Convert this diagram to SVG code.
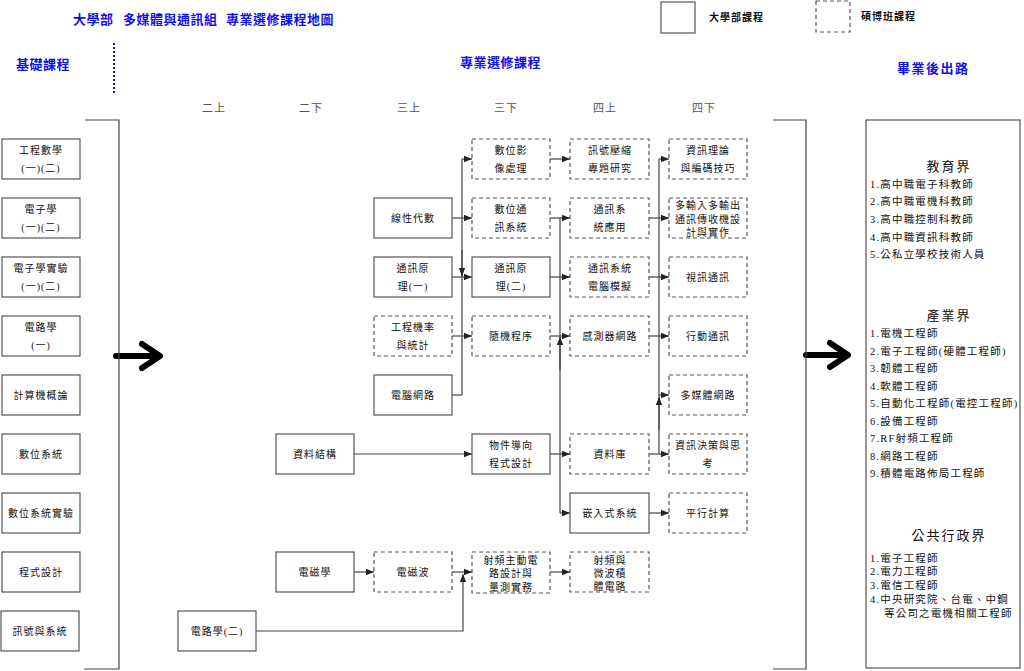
<svg xmlns="http://www.w3.org/2000/svg" width="1024" height="671" viewBox="0 0 1024 671">
<defs>
<style>
.bx{fill:#fff;stroke:#555;stroke-width:1.2}
.dx{fill:#fff;stroke:#555;stroke-width:1.2;stroke-dasharray:4 3}
.t{font-family:"Liberation Serif","Noto Sans CJK TC",serif;font-size:10px;letter-spacing:1px;fill:#111;text-anchor:middle;dominant-baseline:central}
.h{font-family:"Liberation Serif","Noto Sans CJK TC",serif;font-size:13px;font-weight:bold;fill:#1010f0;letter-spacing:0.5px;dominant-baseline:central}
.sem{font-family:"Liberation Serif","Noto Sans CJK TC",serif;font-size:11px;fill:#555;text-anchor:middle;dominant-baseline:central;letter-spacing:1px}
.lg{font-family:"Liberation Serif","Noto Sans CJK TC",serif;font-size:10px;font-weight:bold;fill:#111;dominant-baseline:central;letter-spacing:1px}
.rh{font-family:"Liberation Serif","Noto Sans CJK TC",serif;font-size:13px;fill:#111;text-anchor:middle;dominant-baseline:central;letter-spacing:2px}
.ri{font-family:"Liberation Serif","Noto Sans CJK TC",serif;font-size:10.5px;fill:#111;dominant-baseline:central;letter-spacing:1.2px}
.cn{fill:none;stroke:#444;stroke-width:1.2}
.big{fill:none;stroke:#000;stroke-width:6;stroke-linecap:round;stroke-linejoin:round}
</style>
<marker id="ah" viewBox="0 0 8 8" refX="8" refY="4" markerWidth="8" markerHeight="8" markerUnits="userSpaceOnUse" orient="auto">
<path d="M0,0.8 L8,4 L0,7.2 z" fill="#222"/>
</marker>
</defs>
<rect width="1024" height="671" fill="#fff"/>

<g id="title">
<text class="h" x="73" y="19">大學部</text>
<text class="h" x="123" y="19">多媒體與通訊組</text>
<text class="h" x="226" y="19">專業選修課程地圖</text>
</g>
<g id="headings">
<text class="h" x="16" y="64">基礎課程</text>
<text class="h" x="460" y="62">專業選修課程</text>
<text class="h" x="897" y="68" style="letter-spacing:1.5px">畢業後出路</text>
<line x1="114" y1="43" x2="114" y2="95" stroke="#1010f0" stroke-width="2" stroke-dasharray="2 2"/>
</g>
<g id="legend">
<rect class="bx" x="661" y="2" width="34" height="31"/>
<text class="lg" x="709" y="17">大學部課程</text>
<rect class="dx" x="816" y="1" width="34" height="31"/>
<text class="lg" x="861" y="16">碩博班課程</text>
</g>
<g id="semesters">
<text class="sem" x="214" y="108">二上</text>
<text class="sem" x="311" y="108">二下</text>
<text class="sem" x="409" y="108">三上</text>
<text class="sem" x="506" y="108">三下</text>
<text class="sem" x="605" y="108">四上</text>
<text class="sem" x="704" y="108">四下</text>
</g>

<g id="connectors">
<path class="big" d="M116,356 H159 M142,344 L160,356 L142,368"/>
<path class="big" d="M806,355 H847 M830,343 L848,355 L830,367"/>
<path class="cn" d="M85,120 H119 V669 H84"/>
<path class="cn" d="M773,120 H806 V669 H773"/>
<path class="cn" d="M462,159 V395"/>
<path class="cn" marker-end="url(#ah)" d="M462,159 H472"/>
<path class="cn" marker-end="url(#ah)" d="M452,218 H472"/>
<path class="cn" marker-end="url(#ah)" d="M452,277 H472"/>
<path class="cn" marker-end="url(#ah)" d="M452,336 H472"/>
<path class="cn" d="M452,395 H462"/>
<path class="cn" marker-end="url(#ah)" d="M462,250 V276"/>
<path class="cn" marker-end="url(#ah)" d="M550,159 H570"/>
<path class="cn" d="M560,218 V513"/>
<path class="cn" marker-end="url(#ah)" d="M550,218 H570"/>
<path class="cn" marker-end="url(#ah)" d="M550,277 H570"/>
<path class="cn" marker-end="url(#ah)" d="M550,336 H570"/>
<path class="cn" marker-end="url(#ah)" d="M550,454 H570"/>
<path class="cn" marker-end="url(#ah)" d="M560,513 H570"/>
<path class="cn" marker-end="url(#ah)" d="M560,370 V337"/>
<path class="cn" d="M659,159 V454"/>
<path class="cn" marker-end="url(#ah)" d="M659,159 H669"/>
<path class="cn" marker-end="url(#ah)" d="M649,218 H669"/>
<path class="cn" marker-end="url(#ah)" d="M649,277 H669"/>
<path class="cn" marker-end="url(#ah)" d="M649,336 H669"/>
<path class="cn" marker-end="url(#ah)" d="M659,395 H669"/>
<path class="cn" marker-end="url(#ah)" d="M659,430 V397"/>
<path class="cn" marker-end="url(#ah)" d="M649,454 H669"/>
<path class="cn" marker-end="url(#ah)" d="M649,513 H669"/>
<path class="cn" marker-end="url(#ah)" d="M354,454 H472"/>
<path class="cn" marker-end="url(#ah)" d="M354,572 H374"/>
<path class="cn" marker-end="url(#ah)" d="M452,572 H472"/>
<path class="cn" marker-end="url(#ah)" d="M256,631 H463 V574"/>
<path class="cn" marker-end="url(#ah)" d="M550,572 H570"/>
</g>

<g id="n-gcsx"><rect class="bx" x="2" y="139" width="78" height="40"/><text class="t" x="41" y="150">工程數學</text><text class="t" x="41" y="168">(一)(二)</text></g>
<g id="n-dzx"><rect class="bx" x="2" y="198" width="78" height="40"/><text class="t" x="41" y="209">電子學</text><text class="t" x="41" y="227">(一)(二)</text></g>
<g id="n-dzxsy"><rect class="bx" x="2" y="257" width="78" height="40"/><text class="t" x="41" y="268">電子學實驗</text><text class="t" x="41" y="286">(一)(二)</text></g>
<g id="n-dlx1"><rect class="bx" x="2" y="316" width="78" height="40"/><text class="t" x="41" y="327">電路學</text><text class="t" x="41" y="345">(一)</text></g>
<g id="n-jsjgl"><rect class="bx" x="2" y="375" width="78" height="40"/><text class="t" x="41" y="395">計算機概論</text></g>
<g id="n-swxt"><rect class="bx" x="2" y="434" width="78" height="40"/><text class="t" x="41" y="454">數位系統</text></g>
<g id="n-swxtsy"><rect class="bx" x="2" y="493" width="78" height="40"/><text class="t" x="41" y="513">數位系統實驗</text></g>
<g id="n-csjs"><rect class="bx" x="2" y="552" width="78" height="40"/><text class="t" x="41" y="572">程式設計</text></g>
<g id="n-xhyxt"><rect class="bx" x="1" y="611" width="78" height="40"/><text class="t" x="40" y="631">訊號與系統</text></g>

<g id="n-dlx2"><rect class="bx" x="178" y="611" width="78" height="40"/><text class="t" x="217" y="631">電路學(二)</text></g>
<g id="n-zljg"><rect class="bx" x="276" y="434" width="78" height="40"/><text class="t" x="315" y="454">資料結構</text></g>
<g id="n-dcx"><rect class="bx" x="276" y="552" width="78" height="40"/><text class="t" x="315" y="572">電磁學</text></g>

<g id="n-xxds"><rect class="bx" x="374" y="198" width="78" height="40"/><text class="t" x="413" y="218">線性代數</text></g>
<g id="n-txyl1"><rect class="bx" x="374" y="257" width="78" height="40"/><text class="t" x="413" y="268">通訊原</text><text class="t" x="413" y="286">理(一)</text></g>
<g id="n-gcjl"><rect class="dx" x="374" y="316" width="78" height="40"/><text class="t" x="413" y="327">工程機率</text><text class="t" x="413" y="345">與統計</text></g>
<g id="n-dnwl"><rect class="bx" x="374" y="375" width="78" height="40"/><text class="t" x="413" y="395">電腦網路</text></g>
<g id="n-dcb"><rect class="dx" x="374" y="552" width="78" height="40"/><text class="t" x="413" y="572">電磁波</text></g>

<g id="n-swyx"><rect class="dx" x="472" y="139" width="78" height="40"/><text class="t" x="511" y="150">數位影</text><text class="t" x="511" y="168">像處理</text></g>
<g id="n-swtx"><rect class="dx" x="472" y="198" width="78" height="40"/><text class="t" x="511" y="209">數位通</text><text class="t" x="511" y="227">訊系統</text></g>
<g id="n-txyl2"><rect class="bx" x="472" y="257" width="78" height="40"/><text class="t" x="511" y="268">通訊原</text><text class="t" x="511" y="286">理(二)</text></g>
<g id="n-sjcx"><rect class="dx" x="472" y="316" width="78" height="40"/><text class="t" x="511" y="336">隨機程序</text></g>
<g id="n-wjdx"><rect class="bx" x="472" y="434" width="78" height="40"/><text class="t" x="511" y="445">物件導向</text><text class="t" x="511" y="463">程式設計</text></g>
<g id="n-spzd"><rect class="dx" x="472" y="552" width="78" height="41"/><text class="t" x="511" y="560">射頻主動電</text><text class="t" x="511" y="573">路設計與</text><text class="t" x="511" y="587">量測實務</text></g>

<g id="n-xhys"><rect class="dx" x="570" y="139" width="79" height="40"/><text class="t" x="610" y="150">訊號壓縮</text><text class="t" x="610" y="168">專題研究</text></g>
<g id="n-txxtyy"><rect class="dx" x="570" y="198" width="79" height="40"/><text class="t" x="610" y="209">通訊系</text><text class="t" x="610" y="227">統應用</text></g>
<g id="n-txxtmn"><rect class="dx" x="570" y="257" width="79" height="40"/><text class="t" x="610" y="268">通訊系統</text><text class="t" x="610" y="286">電腦模擬</text></g>
<g id="n-cgqwl"><rect class="dx" x="570" y="316" width="79" height="40"/><text class="t" x="610" y="336">感測器網路</text></g>
<g id="n-zlk"><rect class="dx" x="570" y="434" width="79" height="40"/><text class="t" x="610" y="454">資料庫</text></g>
<g id="n-qrsxt"><rect class="bx" x="570" y="493" width="79" height="40"/><text class="t" x="610" y="513">嵌入式系統</text></g>
<g id="n-spwb"><rect class="dx" x="570" y="552" width="79" height="40"/><text class="t" x="610" y="560">射頻與</text><text class="t" x="610" y="573">微波積</text><text class="t" x="610" y="586">體電路</text></g>

<g id="n-zxll"><rect class="dx" x="669" y="139" width="78" height="40"/><text class="t" x="708" y="150">資訊理論</text><text class="t" x="708" y="168">與編碼技巧</text></g>
<g id="n-mimo"><rect class="dx" x="669" y="198" width="78" height="40"/><text class="t" x="708" y="205">多輸入多輸出</text><text class="t" x="708" y="219">通訊傳收機設</text><text class="t" x="708" y="232">計與實作</text></g>
<g id="n-sxtx"><rect class="dx" x="669" y="257" width="78" height="40"/><text class="t" x="708" y="277">視訊通訊</text></g>
<g id="n-xdtx"><rect class="dx" x="669" y="316" width="78" height="40"/><text class="t" x="708" y="336">行動通訊</text></g>
<g id="n-dmtwl"><rect class="dx" x="669" y="375" width="78" height="40"/><text class="t" x="708" y="395">多媒體網路</text></g>
<g id="n-zxjc"><rect class="dx" x="669" y="434" width="78" height="40"/><text class="t" x="708" y="445">資訊決策與思</text><text class="t" x="708" y="463">考</text></g>
<g id="n-pxjs"><rect class="dx" x="669" y="493" width="78" height="40"/><text class="t" x="708" y="513">平行計算</text></g>

<g id="n-careers">
<rect class="bx" x="866" y="120" width="154" height="548"/>
<text class="rh" x="949" y="166">教育界</text>
<text class="ri" x="870" y="184">1.高中職電子科教師</text>
<text class="ri" x="870" y="201">2.高中職電機科教師</text>
<text class="ri" x="870" y="219">3.高中職控制科教師</text>
<text class="ri" x="870" y="237">4.高中職資訊科教師</text>
<text class="ri" x="870" y="254">5.公私立學校技術人員</text>
<text class="rh" x="949" y="315">產業界</text>
<text class="ri" x="870" y="333">1.電機工程師</text>
<text class="ri" x="870" y="351">2.電子工程師(硬體工程師)</text>
<text class="ri" x="870" y="368">3.韌體工程師</text>
<text class="ri" x="870" y="386">4.軟體工程師</text>
<text class="ri" x="870" y="403">5.自動化工程師(電控工程師)</text>
<text class="ri" x="870" y="421">6.設備工程師</text>
<text class="ri" x="870" y="438">7.RF射頻工程師</text>
<text class="ri" x="870" y="456">8.網路工程師</text>
<text class="ri" x="870" y="473">9.積體電路佈局工程師</text>
<text class="rh" x="949" y="535">公共行政界</text>
<text class="ri" x="870" y="558">1.電子工程師</text>
<text class="ri" x="870" y="571">2.電力工程師</text>
<text class="ri" x="870" y="585">3.電信工程師</text>
<text class="ri" x="870" y="599">4.中央研究院、台電、中鋼</text>
<text class="ri" x="884" y="613">等公司之電機相關工程師</text>
</g>
</svg>
